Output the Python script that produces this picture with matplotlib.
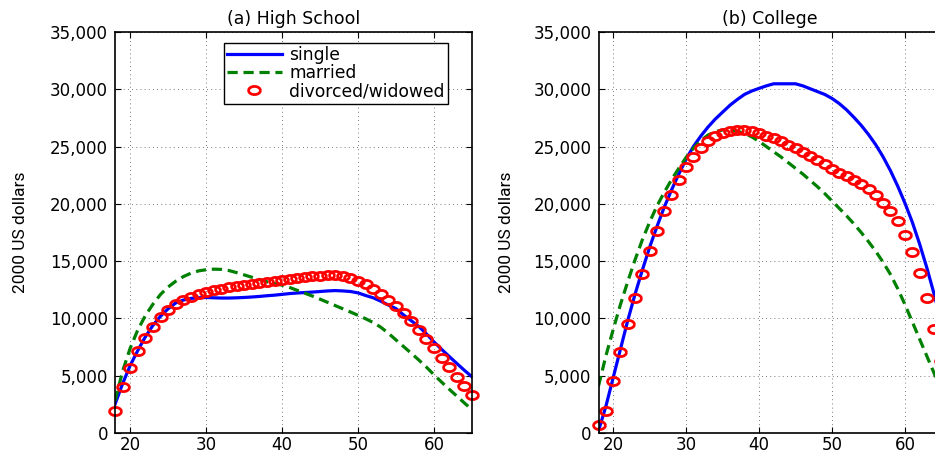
import matplotlib
matplotlib.use("Agg")
import matplotlib.pyplot as plt
import numpy as np
from matplotlib.path import Path
from matplotlib.ticker import FuncFormatter

# --- data ---
ages = np.arange(18, 66)

hs_single = [2500, 4300, 5900, 7200, 8400, 9400, 10200, 10850, 11350, 11600,
             11750, 11800, 11830, 11800, 11780, 11780, 11800, 11830, 11870, 11920,
             11980, 12030, 12100, 12170, 12220, 12260, 12300, 12350, 12400, 12430,
             12400, 12350, 12230, 12000, 11800, 11500, 11170, 10850, 10300, 9800,
             9300, 8650, 7950, 7300, 6680, 6070, 5470, 4900]
hs_married = [2800, 5400, 7400, 9000, 10250, 11250, 12100, 12750, 13250, 13650,
              13950, 14150, 14250, 14300, 14280, 14180, 14000, 13800, 13600, 13400,
              13200, 13050, 12900, 12700, 12450, 12200, 11950, 11680, 11400, 11120,
              10840, 10560, 10270, 9970, 9640, 9230, 8700, 8120, 7540, 6960,
              6370, 5750, 5080, 4440, 3820, 3220, 2620, 2030]
hs_divorced = [1950, 4000, 5700, 7140, 8300, 9290, 10090, 10730, 11230, 11640,
               11900, 12090, 12290, 12460, 12610, 12730, 12840, 12960, 13040, 13130,
               13220, 13300, 13390, 13450, 13540, 13620, 13680, 13740, 13770, 13770,
               13680, 13510, 13300, 13010, 12540, 12130, 11640, 11120, 10460, 9740,
               9000, 8220, 7420, 6580, 5730, 4920, 4120, 3340]

col_single = [200, 2300, 4800, 7300, 9800, 12100, 14200, 16200, 18000, 19700,
              21200, 22600, 23900, 25000, 25900, 26700, 27400, 28000, 28600, 29100,
              29550, 29850, 30080, 30300, 30480, 30480, 30480, 30480, 30300, 30050,
              29800, 29550, 29200, 28750, 28200, 27550, 26850, 26050, 25150, 24100,
              22900, 21550, 20050, 18400, 16500, 14400, 12100, 9600]
col_married = [4100, 6700, 9000, 11200, 13200, 15100, 16850, 18400, 19800, 21000,
               22100, 23100, 24050, 24850, 25500, 26000, 26300, 26450, 26450, 26350,
               26150, 25850, 25450, 25000, 24550, 24100, 23600, 23100, 22600, 22050,
               21500, 20900, 20250, 19600, 18950, 18250, 17500, 16700, 15850, 14900,
               13850, 12600, 11200, 9700, 8200, 6700, 5200, 3700]
col_divorced = [700, 1950, 4550, 7100, 9500, 11790, 13880, 15880, 17660, 19380,
                20800, 22090, 23200, 24100, 24900, 25500, 25920, 26210, 26390, 26470,
                26440, 26330, 26160, 25950, 25720, 25460, 25170, 24850, 24510, 24160,
                23790, 23440, 23060, 22720, 22400, 22050, 21700, 21270, 20750, 20110,
                19360, 18470, 17290, 15770, 13980, 11810, 9100, 6300]

titles = ['(a) High School', '(b) College']
labels = ['single', 'married', 'divorced/widowed']

# ellipse marker (the original is slightly stretched horizontally)
t = np.linspace(0, 2 * np.pi, 41)
ellipse = Path(np.column_stack([1.45 * np.cos(t), np.sin(t)]))

plt.rcParams['font.family'] = 'DejaVu Sans'

fig = plt.figure(figsize=(9.35, 4.51), dpi=100)
W, H = 935.0, 451.0
ax1 = fig.add_axes([115 / W, 18 / H, (472 - 115) / W, (433 - 32) / H])
ax2 = fig.add_axes([598.5 / W, 18 / H, (941.5 - 598.5) / W, (433 - 32) / H])


def draw(ax, single, married, divorced, title):
    ax.plot(ages, single, color='#0000ff', lw=2.3, label=labels[0])
    ax.plot(ages, married, color='#008000', lw=2.3, dashes=(3.2, 1.8), label=labels[1])
    ax.plot(ages, divorced, ls='none', marker=ellipse, ms=8.5, mfc='none',
            mec='#ff0000', mew=2.0, clip_on=False, label=labels[2])
    ax.set_xlim(18, 65)
    ax.set_ylim(0, 35000)
    ax.set_xticks([20, 30, 40, 50, 60])
    ax.set_yticks(np.arange(0, 35001, 5000))
    ax.yaxis.set_major_formatter(FuncFormatter(lambda v, p: f"{int(v):,}"))
    ax.grid(True, color='0.3', lw=0.6, ls=(0, (1, 4)))
    ax.tick_params(direction='in', length=4, width=0.8, labelsize=12,
                   top=True, right=True)
    ax.tick_params(axis='y', pad=5)
    ax.tick_params(axis='x', pad=2.5)
    for s in ax.spines.values():
        s.set_linewidth(1.2)
    ax.set_title(title, fontsize=12.5, pad=6)
    ax.set_ylabel('2000 US dollars', fontsize=12.5, family=['Roboto', 'DejaVu Sans'])
    ax.yaxis.set_label_coords(-0.245, 0.5)


draw(ax1, hs_single, hs_married, hs_divorced, titles[0])
draw(ax2, col_single, col_married, col_divorced, titles[1])

leg = ax1.legend(loc='upper right', bbox_to_anchor=(0.933, 0.9726), fontsize=12.3,
                 numpoints=1, handlelength=3.2, handletextpad=0.45, labelspacing=0.0,
                 borderpad=0.2, borderaxespad=0, fancybox=False, framealpha=1)
leg.get_frame().set_edgecolor('black')
leg.get_frame().set_linewidth(1.0)

fig.savefig('out.png', dpi=100)
